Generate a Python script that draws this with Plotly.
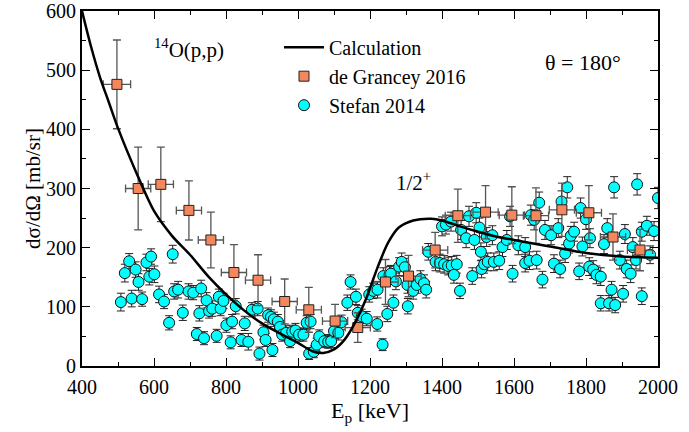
import plotly.graph_objects as go

# Calculation curve
calc_E = [400, 425, 450, 475, 500, 550, 600, 650, 700, 750, 800, 850, 900, 950, 1000,
          1040, 1070, 1100, 1130, 1160, 1190, 1220, 1250, 1280, 1320, 1370, 1400, 1450,
          1500, 1550, 1600, 1700, 1800, 1900, 2000]
calc_y = [600, 540, 488, 445, 402, 328, 262, 220, 188, 152, 121, 94, 72, 55, 39,
          25, 22, 28, 45, 75, 115, 165, 208, 234, 246, 249, 246, 236,
          227, 219, 213, 202, 191, 185, 183]

# de Grancey 2016
dg_E = [497, 556, 619, 697, 758, 822, 889, 963, 1030, 1103, 1166, 1243, 1307, 1381,
        1444, 1521, 1594, 1661, 1733, 1808, 1875, 1950]
dg_y = [476, 300, 307, 263, 213, 158, 145, 109, 95, 76, 65, 142, 152, 196,
        254, 260, 255, 254, 264, 259, 218, 196]
dg_yerr = [75, 70, 63, 50, 47, 47, 43, 38, 38, 28, 25, 38, 35, 30,
           45, 45, 48, 47, 45, 46, 39, 35]
dg_xerr = [38, 35, 35, 35, 35, 35, 35, 35, 35, 35, 35, 35, 35, 35,
           35, 35, 35, 35, 35, 35, 35, 35]

# Stefan 2014
st_E = [508, 519, 531, 538, 549, 557, 567, 579, 587, 592, 601, 614, 628, 642, 652, 656,
        667, 680, 696, 709, 719, 726, 731, 739, 746, 753, 762, 774, 780, 785, 793, 801,
        813, 817, 827, 843, 852, 862, 872, 888, 893, 904, 910, 917, 925, 929, 933, 944,
        950, 956, 967, 978, 984, 993, 1003, 1015, 1024, 1031, 1035, 1044, 1052, 1059,
        1073, 1084, 1092, 1100, 1112, 1121, 1137, 1146, 1161, 1166, 1177, 1191, 1198,
        1209, 1220, 1221, 1235, 1237, 1248, 1254, 1258, 1265, 1272, 1281, 1288, 1297,
        1304, 1305, 1320, 1330, 1340, 1350, 1356, 1362, 1382, 1394, 1400, 1406, 1411,
        1417, 1425, 1427, 1433, 1441, 1450, 1453, 1467, 1475, 1484, 1490, 1495, 1504,
        1508, 1510, 1517, 1524, 1527, 1540, 1544, 1559, 1568, 1580, 1589, 1596, 1612,
        1631, 1631, 1643, 1647, 1656, 1663, 1670, 1679, 1686, 1703, 1711, 1723, 1728,
        1732, 1742, 1748, 1753, 1758, 1767, 1781, 1785, 1790, 1800, 1809, 1811, 1820,
        1829, 1841, 1841, 1850, 1859, 1864, 1871, 1878, 1881, 1894, 1903, 1908, 1913,
        1924, 1930, 1939, 1942, 1955, 1955, 1969, 1978, 1989, 2000]
st_y = [108, 157, 177, 114, 163, 142, 113, 175, 151, 185, 155, 121, 109, 73, 189, 126,
        129, 90, 126, 124, 54, 89, 131, 47, 111, 93, 97, 51, 117, 97, 110, 69,
        40, 75, 101, 44, 72, 41, 95, 97, 21, 57, 44, 86, 83, 27, 79, 75,
        66, 53, 56, 42, 58, 60, 53, 53, 73, 21, 75, 24, 36, 50,
        42, 41, 42, 59, 56, 74, 107, 142, 117, 90, 84, 80, 121,
        127, 71, 129, 36, 152, 88, 154, 156, 107, 143, 168, 176, 167,
        137, 101, 127, 137, 147, 140, 129, 193, 176, 174, 236, 172, 239,
        169, 244, 170, 154, 172, 127, 230, 216, 253, 152, 213, 259, 234,
        193, 164, 172, 218, 176, 221, 176, 178, 201, 213, 253, 156, 204,
        201, 174, 178, 255, 247, 179, 276, 146, 230, 221, 173, 233, 164,
        278, 190, 302, 207, 220, 227, 160, 267, 202, 248, 168, 216, 163,
        154, 151, 106, 206, 233, 106, 129, 302, 103, 179, 122, 223, 164,
        156, 201, 179, 307, 118, 227, 237, 188, 228, 284]
st_err = [15, 15, 13, 14, 13, 14, 12, 14, 14, 13, 14, 14, 12, 12, 15, 13,
          14, 13, 13, 12, 11, 13, 14, 11, 13, 12, 13, 11, 13, 12, 13, 12,
          11, 12, 13, 11, 12, 14, 12, 12, 11, 12, 11, 12, 12, 11, 12, 12,
          11, 11, 12, 11, 11, 12, 11, 11, 12, 10, 12, 10, 11, 11,
          11, 11, 11, 12, 12, 12, 13, 12, 13, 12, 12, 12, 13,
          13, 12, 14, 10, 14, 13, 14, 14, 13, 14, 15, 15, 15,
          14, 13, 14, 14, 14, 14, 14, 14, 15, 15, 16, 15, 16,
          15, 16, 15, 14, 15, 13, 16, 16, 17, 14, 16, 17, 16,
          15, 15, 15, 16, 15, 16, 15, 15, 16, 16, 17, 14, 16,
          16, 15, 15, 17, 17, 15, 18, 14, 16, 16, 15, 16, 15,
          18, 15, 18, 16, 16, 16, 14, 17, 16, 17, 15, 16, 15,
          15, 15, 13, 16, 16, 13, 14, 18, 13, 15, 14, 16, 15,
          15, 16, 15, 18, 14, 16, 16, 15, 16, 18]

FONT = "Liberation Serif"

fig = go.Figure()

fig.add_trace(go.Scatter(
    x=st_E, y=st_y, mode="markers", name="Stefan 2014", legendrank=3,
    marker=dict(symbol="circle", size=11, color="#00FFFF",
                line=dict(color="#111111", width=1)),
    error_y=dict(type="data", array=st_err, visible=True, color="#222222",
                 thickness=1, width=4),
    cliponaxis=True,
))

fig.add_trace(go.Scatter(
    x=dg_E, y=dg_y, mode="markers", name="de Grancey 2016", legendrank=2,
    marker=dict(symbol="square", size=10, color="#F4875E",
                line=dict(color="#222222", width=1)),
    error_y=dict(type="data", array=dg_yerr, visible=True, color="#555555",
                 thickness=1.3, width=4),
    error_x=dict(type="data", array=dg_xerr, visible=True, color="#555555",
                 thickness=1.3, width=4),
))

fig.add_trace(go.Scatter(
    x=calc_E, y=calc_y, mode="lines", name="Calculation", legendrank=1,
    line=dict(color="black", width=2.5, shape="spline", smoothing=0.8),
))

axis_common = dict(
    showline=True, linewidth=2, linecolor="black", mirror="ticks",
    ticks="inside", ticklen=8, tickwidth=1, tickcolor="black",
    showgrid=False, zeroline=False, automargin=False,
    tickfont=dict(family=FONT, size=20, color="black"),
)

fig.update_xaxes(
    range=[400, 2000], dtick=200, tick0=400,
    minor=dict(dtick=100, ticks="inside", ticklen=4, tickcolor="black", showgrid=False),
    title=dict(text="E<sub>p</sub> [keV]", font=dict(family=FONT, size=22, color="black"),
               standoff=6),
    ticklabelstandoff=2,
    **axis_common,
)
fig.update_yaxes(
    range=[0, 600], dtick=100, tick0=0,
    minor=dict(dtick=50, ticks="inside", ticklen=4, tickcolor="black", showgrid=False),
    title=dict(text="dσ/dΩ [mb/sr]", font=dict(family=FONT, size=21, color="black"),
               standoff=0),
    **axis_common,
)

fig.add_annotation(x=594, y=537, xref="x", yref="y", text="<sup>14</sup>O(p,p)",
                   showarrow=False, xanchor="left", yanchor="middle",
                   font=dict(family=FONT, size=21, color="black"))
fig.add_annotation(x=1681, y=513, xref="x", yref="y", text="θ = 180°",
                   showarrow=False, xanchor="left", yanchor="middle",
                   font=dict(family=FONT, size=22, color="black"))
fig.add_annotation(x=1268, y=311, xref="x", yref="y", text="1/2<sup>+</sup>",
                   showarrow=False, xanchor="left", yanchor="middle",
                   font=dict(family=FONT, size=21, color="black"))

fig.update_layout(
    width=689, height=432,
    margin=dict(l=82, r=31, t=11, b=66),
    paper_bgcolor="white", plot_bgcolor="white",
    showlegend=True,
    legend=dict(x=0.342, y=0.953, xanchor="left", yanchor="top",
                bgcolor="rgba(0,0,0,0)", borderwidth=0,
                font=dict(family=FONT, size=20, color="black"),
                tracegroupgap=0, itemwidth=40),
)

fig.write_html("out.html")
